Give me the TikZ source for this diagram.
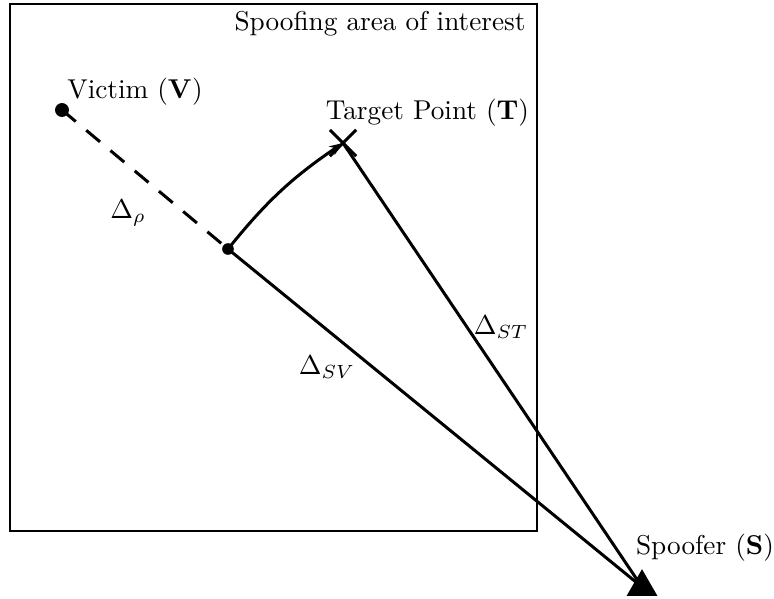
\documentclass[tikz,border=0pt]{standalone}
\usepackage{amsmath, amssymb}
\usepackage{tikz}
\usetikzlibrary{arrows.meta, positioning, calc, shapes.geometric, shapes.misc}
\newcommand{\dsv}{\Delta_{SV}}
\newcommand{\dst}{\Delta_{ST}}

\begin{document}
\begin{tikzpicture}[x=0.129cm, y=0.129cm,
    pathline/.style={line width=1.1pt},
    dotnode/.style={circle, fill, inner sep=0pt}]
  \useasboundingbox (0,0) rectangle (77.4,59.8);
  % ============ area of interest ============
  \draw[line width=0.8pt] (1.0,6.7) rectangle (53.7,59.4);
  \node (areaLbl) at (38.0,57.4) {Spoofing area of interest};
  % ============ points ============
  \node[dotnode, minimum size=0.18cm] (V) at (6.2,48.8) {};
  \node[dotnode, minimum size=0.15cm] (M) at (22.8,34.9) {};
  \node[cross out, draw, pathline, minimum size=0.3cm, inner sep=0pt] (T) at (34.3,45.5) {};
  \node[regular polygon, regular polygon sides=3, fill, inner sep=0pt, minimum size=0.46cm] (S) at (64.2,1.1) {};
  % ============ paths ============
  \draw[pathline, dash pattern={on 6.6pt off 5pt}] (V.center) -- (M.center);
  \draw[pathline] (M.center) -- (S.center);
  \draw[pathline] (T.center) -- (S.center);
  \draw[pathline, -{Stealth[length=5pt]}] (M.center) to[bend left=8.5] (T.center);
  % ============ labels ============
  \node (victimLbl) at (13.5,50.6) {Victim ($\mathbf{V}$)};
  \node (targetLbl) at (42.75,48.5) {Target Point ($\mathbf{T}$)};
  \node (spooferLbl) at (70.5,5.05) {Spoofer ($\mathbf{S}$)};
  \node (drho) at (12.8,38.5) {$\Delta_{\rho}$};
  \node (dsv) at (32.7,23.1) {$\dsv$};
  \node (dst) at (50.1,27.1) {$\dst$};
\end{tikzpicture}
\end{document}
